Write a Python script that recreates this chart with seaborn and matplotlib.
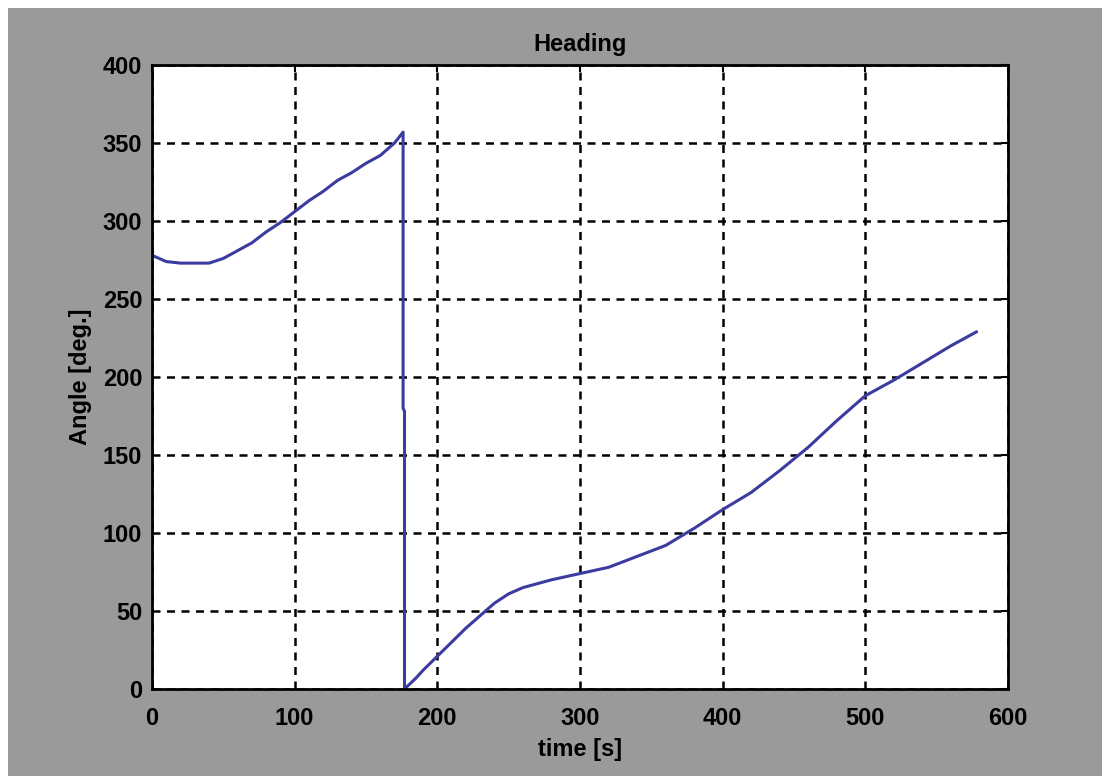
import matplotlib
matplotlib.use("Agg")
import matplotlib.pyplot as plt
import matplotlib.patches as mpatches
import seaborn as sns
import pandas as pd

# Heading data
time_s = [0, 5, 10, 20, 30, 40, 50, 60, 70, 80, 90, 100, 110, 120, 130, 140,
          150, 160, 170, 176, 176, 177, 177,
          185, 190, 200, 210, 220, 230, 240, 250, 260, 280, 300, 320, 340,
          360, 380, 400, 420, 440, 460, 480, 500, 520, 540, 560, 578]
angle_deg = [278, 276, 274, 273, 273, 273, 276, 281, 286, 293, 299, 306, 313, 319, 326, 331,
             337, 342, 350, 357, 180, 178, 0,
             7, 12, 21, 30, 39, 47, 55, 61, 65, 70, 74, 78, 85,
             92, 103, 115, 126, 140, 155, 172, 188, 198, 209, 220, 229]

x_ticks = [0, 100, 200, 300, 400, 500, 600]
y_ticks = [0, 50, 100, 150, 200, 250, 300, 350, 400]

df = pd.DataFrame({"time": time_s, "angle": angle_deg})

sns.set_theme(style="white")
plt.rcParams["font.family"] = ["Liberation Sans", "DejaVu Sans"]
plt.rcParams["text.color"] = "black"
plt.rcParams["axes.labelcolor"] = "black"

fig = plt.figure(figsize=(11.02, 7.76), dpi=100)
fig.patch.set_facecolor("white")
fig.patches.append(mpatches.Rectangle((8 / 1102, 0), 1 - 8 / 1102, 1 - 8 / 776,
                                      transform=fig.transFigure, facecolor="#9a9a9a",
                                      edgecolor="none", zorder=-10))

ax = fig.add_axes([152 / 1102, 1 - 689 / 776, (1008 - 152) / 1102, (689 - 65) / 776])
ax.set_facecolor("white")

sns.lineplot(data=df, x="time", y="angle", ax=ax, sort=False, estimator=None,
             color="#3b3ba0", linewidth=2.2)

ax.set_xlim(0, 600)
ax.set_ylim(0, 400)
ax.set_xticks(x_ticks)
ax.set_yticks(y_ticks)
ax.set_xticklabels([str(v) for v in x_ticks], fontsize=17, fontweight="bold")
ax.set_yticklabels([str(v) for v in y_ticks], fontsize=17, fontweight="bold")
ax.grid(True, color="black", linestyle=(0, (3.2, 2.6)), linewidth=1.8)
for s in ax.spines.values():
    s.set_color("black")
    s.set_linewidth(2)
ax.tick_params(direction="in", length=5, width=1.5, colors="black",
               right=True, top=True)
ax.tick_params(axis="x", pad=13)
ax.tick_params(axis="y", pad=7)

ax.set_title("Heading", fontsize=17, fontweight="bold", pad=10, color="black")
ax.set_xlabel("time [s]", fontsize=17, fontweight="bold", labelpad=6, color="black")
ax.set_ylabel("Angle [deg.]", fontsize=17, fontweight="bold", labelpad=8, color="black")

fig.savefig("out.png", dpi=100, facecolor=fig.get_facecolor())
